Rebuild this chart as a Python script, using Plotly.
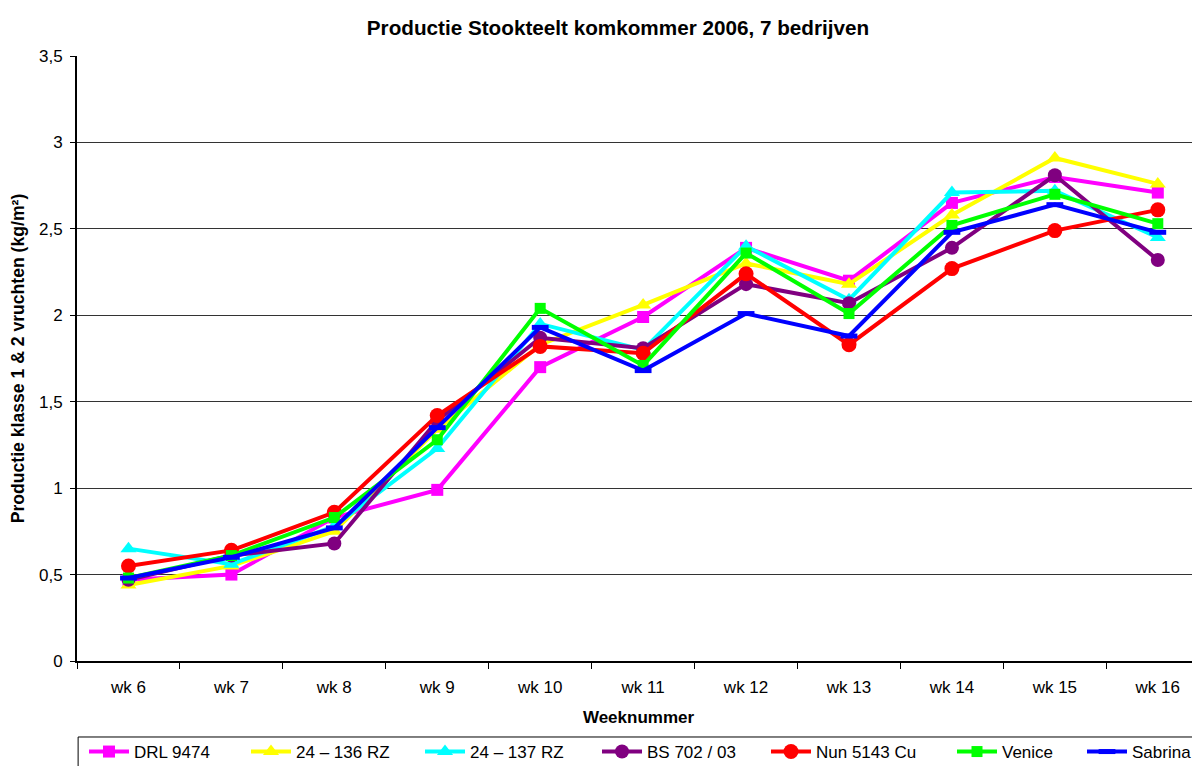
import plotly.graph_objects as go

weeks = ["wk 6", "wk 7", "wk 8", "wk 9", "wk 10", "wk 11", "wk 12", "wk 13", "wk 14", "wk 15", "wk 16"]

drl_9474 = [0.47, 0.50, 0.83, 0.99, 1.70, 1.99, 2.39, 2.20, 2.65, 2.80, 2.71]
rz_24_136 = [0.44, 0.55, 0.75, 1.34, 1.83, 2.06, 2.30, 2.18, 2.58, 2.91, 2.76]
rz_24_137 = [0.65, 0.56, 0.78, 1.23, 1.95, 1.80, 2.40, 2.09, 2.71, 2.72, 2.45]
bs_702_03 = [0.47, 0.61, 0.68, 1.39, 1.87, 1.81, 2.18, 2.07, 2.39, 2.81, 2.32]
nun_5143 = [0.55, 0.64, 0.86, 1.42, 1.82, 1.78, 2.24, 1.83, 2.27, 2.49, 2.61]
venice = [0.48, 0.61, 0.83, 1.28, 2.04, 1.71, 2.36, 2.01, 2.52, 2.70, 2.53]
sabrina = [0.48, 0.60, 0.77, 1.35, 1.93, 1.68, 2.01, 1.88, 2.48, 2.64, 2.48]

y_ticks = [0, 0.5, 1, 1.5, 2, 2.5, 3, 3.5]
y_tick_labels = ["0", "0,5", "1", "1,5", "2", "2,5", "3", "3,5"]

series = [
    ("DRL 9474", drl_9474, "#FF00FF", "square", 12),
    ("24 \u2013 136 RZ", rz_24_136, "#FFFF00", "triangle-up", 14),
    ("24 \u2013 137 RZ", rz_24_137, "#00FFFF", "triangle-up", 14),
    ("BS 702 / 03", bs_702_03, "#800080", "circle", 14),
    ("Nun 5143 Cu", nun_5143, "#FF0000", "circle", 15),
    ("Venice", venice, "#00FF00", "square", 11),
    ("Sabrina", sabrina, "#0000FF", "line-ew", 12),
]

W, H = 1192, 758
# left edges (px) of the individual legend entries along the bottom row
legend_left_px = [76, 238, 412, 589, 758, 944, 1074]

fig = go.Figure()
legend_layouts = {}
for i, (name, vals, color, sym, size) in enumerate(series):
    marker = dict(symbol=sym, size=size, color=color)
    if sym == "line-ew":
        marker["line"] = dict(color=color, width=5)
    lid = "legend" if i == 0 else f"legend{i + 1}"
    fig.add_trace(go.Scatter(
        x=weeks, y=vals, name=name, mode="lines+markers",
        line=dict(color=color, width=4),
        marker=marker, legend=lid,
    ))
    legend_layouts[lid] = dict(
        orientation="h", xref="container", yref="container",
        x=legend_left_px[i] / W, xanchor="left", y=1 - 726 / H, yanchor="top",
        bgcolor="rgba(0,0,0,0)", borderwidth=0, font=dict(size=17),
        itemwidth=40,
    )

fig.update_layout(
    width=W, height=H,
    margin=dict(l=69, r=0, t=48, b=105),
    paper_bgcolor="white", plot_bgcolor="white",
    font=dict(family="Liberation Sans, Arial, sans-serif", size=17, color="black"),
    title=dict(text="<b>Productie Stookteelt komkommer 2006, 7 bedrijven</b>",
               xref="container", yref="container",
               x=610 / W, xanchor="center", y=1 - 20 / H, yanchor="middle",
               font=dict(size=20.7)),
    showlegend=True,
    **legend_layouts,
)
# legend frame
fig.add_shape(type="rect", xref="paper", yref="paper",
              x0=0.001, x1=1.02, y0=-0.1256, y1=-0.25,
              line=dict(color="black", width=1), fillcolor="rgba(0,0,0,0)", layer="above")

fig.update_xaxes(
    type="category", range=[-0.5, 10.41], autorange=False, automargin=False,
    showline=True, linecolor="black", linewidth=2,
    ticks="outside", tickson="boundaries", ticklen=6, tickcolor="black",
    ticklabelstandoff=10,
    showgrid=False, mirror=False,
    title=dict(text="<b>Weeknummer</b>", font=dict(size=17), standoff=15),
)
fig.update_yaxes(
    range=[0, 3.5], tickvals=y_ticks, ticktext=y_tick_labels, automargin=False,
    showline=True, linecolor="black", linewidth=2,
    ticks="outside", ticklen=5, tickcolor="black", ticklabelstandoff=4,
    showgrid=True, gridcolor="#333333", gridwidth=1, zeroline=False,
    title=dict(text="<b>Productie klasse 1 &amp; 2 vruchten (kg/m\u00b2)</b>", font=dict(size=17.6), standoff=15),
)

fig.write_html("out.html")
